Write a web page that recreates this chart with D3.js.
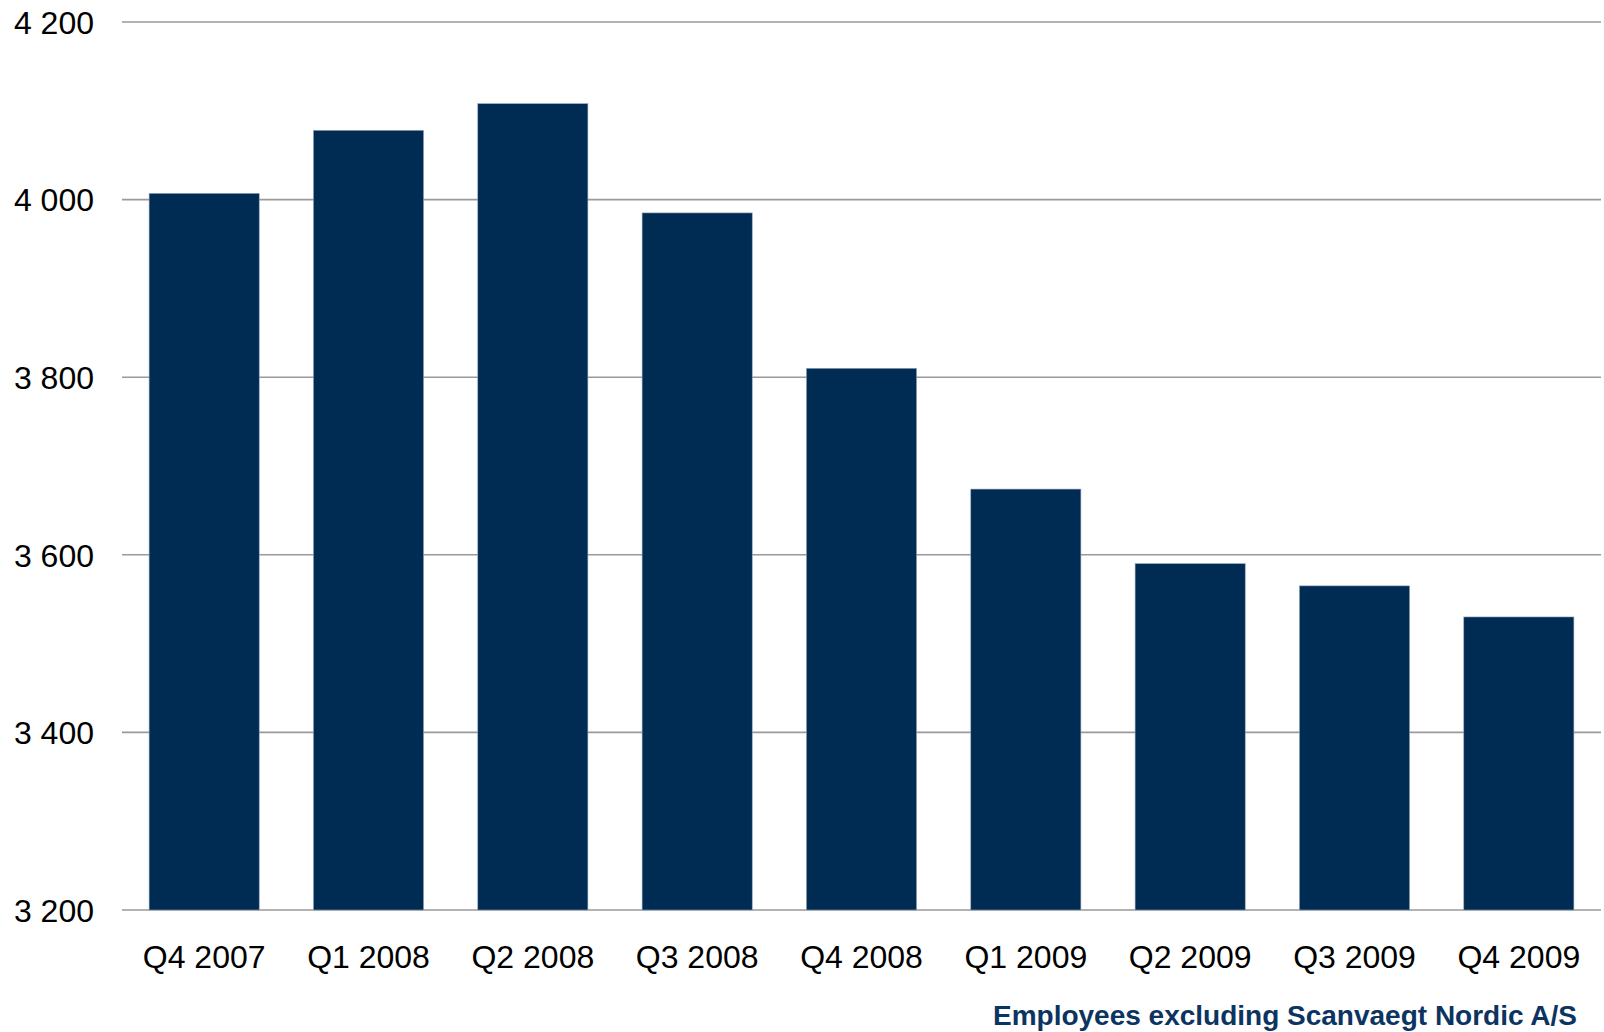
<!DOCTYPE html>
<html><head><meta charset="utf-8">
<script src="https://cdn.jsdelivr.net/npm/d3@7"></script>
<style>body{margin:0;background:#fff;}svg{display:block;}</style>
</head><body>
<svg id="c" width="1604" height="1032"></svg>
<script>
const categories = ["Q4 2007","Q1 2008","Q2 2008","Q3 2008","Q4 2008","Q1 2009","Q2 2009","Q3 2009","Q4 2009"];
const employees = [4007, 4078, 4108, 3985, 3810, 3674, 3590, 3565, 3530];
const yTicks = [3200, 3400, 3600, 3800, 4000, 4200];
const footnote = "Employees excluding Scanvaegt Nordic A/S";

const svg = d3.select("#c");
const mLeft = 122, mRight = 1601, mTop = 22, mBottom = 910;
const x = d3.scaleBand().domain(categories).range([mLeft, mRight]).paddingInner(0.33).paddingOuter(0.165);
const y = d3.scaleLinear().domain([3200, 4200]).range([mBottom, mTop]);
const fmt = v => d3.format(",")(v).replace(",", " ");

svg.append("g").selectAll("line").data(yTicks).join("line")
  .attr("x1", mLeft).attr("x2", mRight)
  .attr("y1", d => y(d)).attr("y2", d => y(d))
  .attr("stroke", "#9a9a9a").attr("stroke-width", 1.6);

svg.append("g").selectAll("rect").data(employees).join("rect")
  .attr("x", (d, i) => x(categories[i]))
  .attr("width", x.bandwidth())
  .attr("y", d => y(d))
  .attr("height", d => y(3200) - y(d))
  .attr("fill", "#002b52")
  .attr("stroke", "#8ea3bd").attr("stroke-width", 0.6);

const yAxis = d3.axisLeft(y).tickValues(yTicks).tickFormat(fmt).tickSize(0).tickPadding(0);
const ya = svg.append("g").attr("transform", `translate(94,0)`).call(yAxis);
ya.select(".domain").remove();
ya.selectAll("text").attr("font-family", "Liberation Sans, Arial, sans-serif").attr("font-size", 32).attr("fill", "#000").attr("dy", "0.35em");

const xAxis = d3.axisBottom(x).tickSize(0).tickPadding(0);
const xa = svg.append("g").attr("transform", `translate(0,952)`).call(xAxis);
xa.select(".domain").remove();
xa.selectAll("text").attr("font-family", "Liberation Sans, Arial, sans-serif").attr("font-size", 32).attr("fill", "#000").attr("dy", "0.5em");

svg.append("text").attr("x", 1577).attr("y", 1025).attr("text-anchor", "end")
  .attr("font-family", "Liberation Sans, Arial, sans-serif").attr("font-weight", "bold")
  .attr("font-size", 28).attr("fill", "#0c3461").text(footnote);
</script>
</body></html>
